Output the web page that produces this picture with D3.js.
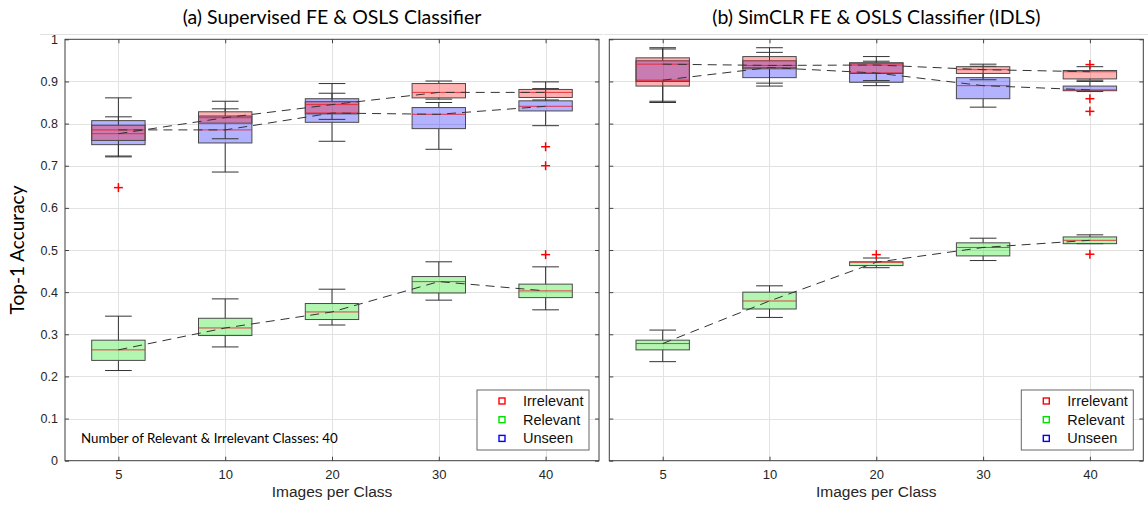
<!DOCTYPE html>
<html>
<head>
<meta charset="utf-8">
<script src="https://cdn.jsdelivr.net/npm/d3@7"></script>
<style>
  html, body { margin: 0; padding: 0; background: #ffffff; }
  svg { display: block; }
</style>
</head>
<body>
<svg id="chart" width="1148" height="512"></svg>
<script>
// Categories on the x axis (images per class)
const categories = ["5", "10", "20", "30", "40"];
const yTicks = [0, 0.1, 0.2, 0.3, 0.4, 0.5, 0.6, 0.7, 0.8, 0.9, 1];
const seriesNames = ["Irrelevant", "Relevant", "Unseen"];
const seriesColors = ["#ff0000", "#00e000", "#0000ff"];

// ---- Panel (a): Supervised FE & OSLS Classifier ----
const aIrrMed = [0.776, 0.814, 0.845, 0.874, 0.874];
const aIrrQ1  = [0.760, 0.801, 0.823, 0.861, 0.862];
const aIrrQ3  = [0.796, 0.828, 0.852, 0.895, 0.881];
const aIrrLo  = [0.723, 0.764, 0.810, 0.858, 0.856];
const aIrrHi  = [0.816, 0.853, 0.872, 0.901, 0.899];
const aIrrOut = [["5", 0.648], ["40", 0.745], ["40", 0.700]];

const aRelMed = [0.263, 0.315, 0.353, 0.425, 0.403];
const aRelQ1  = [0.238, 0.297, 0.335, 0.398, 0.387];
const aRelQ3  = [0.286, 0.338, 0.373, 0.437, 0.419];
const aRelLo  = [0.214, 0.270, 0.322, 0.381, 0.358];
const aRelHi  = [0.343, 0.384, 0.407, 0.472, 0.460];
const aRelOut = [["40", 0.489]];

const aUnsMed = [0.785, 0.785, 0.825, 0.822, 0.841];
const aUnsQ1  = [0.750, 0.754, 0.803, 0.788, 0.830];
const aUnsQ3  = [0.807, 0.818, 0.859, 0.838, 0.854];
const aUnsLo  = [0.721, 0.685, 0.758, 0.739, 0.795];
const aUnsHi  = [0.861, 0.835, 0.895, 0.850, 0.883];
const aUnsOut = [];

// ---- Panel (b): SimCLR FE & OSLS Classifier (IDLS) ----
const bIrrMed = [0.941, 0.938, 0.939, 0.928, 0.923];
const bIrrQ1  = [0.889, 0.930, 0.919, 0.919, 0.906];
const bIrrQ3  = [0.956, 0.959, 0.944, 0.935, 0.926];
const bIrrLo  = [0.853, 0.896, 0.902, 0.904, 0.903];
const bIrrHi  = [0.980, 0.980, 0.959, 0.941, 0.935];
const bIrrOut = [["40", 0.940]];

const bRelMed = [0.278, 0.379, 0.471, 0.506, 0.523];
const bRelQ1  = [0.263, 0.360, 0.463, 0.486, 0.515];
const bRelQ3  = [0.286, 0.400, 0.472, 0.517, 0.531];
const bRelLo  = [0.235, 0.340, 0.458, 0.475, 0.515];
const bRelHi  = [0.310, 0.415, 0.481, 0.528, 0.536];
const bRelOut = [["20", 0.489], ["40", 0.490]];

const bUnsMed = [0.903, 0.933, 0.920, 0.890, 0.880];
const bUnsQ1  = [0.900, 0.909, 0.898, 0.859, 0.878];
const bUnsQ3  = [0.949, 0.949, 0.944, 0.909, 0.889];
const bUnsLo  = [0.850, 0.889, 0.890, 0.839, 0.876];
const bUnsHi  = [0.977, 0.969, 0.948, 0.936, 0.900];
const bUnsOut = [["40", 0.859], ["40", 0.829]];

const annotationText = "Number of Relevant & Irrelevant Classes: 40";

function series(name, color, med, q1, q3, lo, hi, out) {
  return { name, color, med, q1, q3, lo, hi, out };
}

const panels = [
  {
    title: "(a) Supervised FE & OSLS Classifier",
    left: 65, right: 599, yLabels: true, note: annotationText,
    // drawn back to front
    series: [
      series("Unseen", seriesColors[2], aUnsMed, aUnsQ1, aUnsQ3, aUnsLo, aUnsHi, aUnsOut),
      series("Relevant", seriesColors[1], aRelMed, aRelQ1, aRelQ3, aRelLo, aRelHi, aRelOut),
      series("Irrelevant", seriesColors[0], aIrrMed, aIrrQ1, aIrrQ3, aIrrLo, aIrrHi, aIrrOut)
    ]
  },
  {
    title: "(b) SimCLR FE & OSLS Classifier (IDLS)",
    left: 609.3, right: 1143.3, yLabels: false, note: null,
    series: [
      series("Unseen", seriesColors[2], bUnsMed, bUnsQ1, bUnsQ3, bUnsLo, bUnsHi, bUnsOut),
      series("Relevant", seriesColors[1], bRelMed, bRelQ1, bRelQ3, bRelLo, bRelHi, bRelOut),
      series("Irrelevant", seriesColors[0], bIrrMed, bIrrQ1, bIrrQ3, bIrrLo, bIrrHi, bIrrOut)
    ]
  }
];

const svg = d3.select("#chart");
const yTop = 39.3, yBot = 460.7;
const y = d3.scaleLinear().domain([0, 1]).range([yBot, yTop]);

const helv = "'Liberation Sans', Arial, Helvetica, sans-serif";
const calib = "Lato, 'Open Sans', sans-serif";
const fmt = d => String(+d.toFixed(1));

panels.forEach((p, pi) => {
  const x = d3.scalePoint().domain(categories).range([p.left, p.right]).padding(0.5);
  const step = x.step();
  const boxW = step * 0.5;
  const capW = step * 0.25;
  const g = svg.append("g");

  // faint frame line above the axes
  g.append("line")
    .attr("x1", pi === 0 ? 40 : 604).attr("x2", pi === 0 ? 603 : 1148)
    .attr("y1", 34.5).attr("y2", 34.5)
    .attr("stroke", "#e2e2e2").attr("stroke-width", 1);

  // grid
  g.append("g").selectAll("line.gy")
    .data(yTicks.filter(t => t > 0 && t < 1))
    .join("line")
    .attr("x1", p.left).attr("x2", p.right)
    .attr("y1", d => Math.round(y(d)) + 0.5).attr("y2", d => Math.round(y(d)) + 0.5)
    .attr("stroke", "#e2e2e2").attr("stroke-width", 1);
  g.append("g").selectAll("line.gx")
    .data(categories)
    .join("line")
    .attr("x1", d => Math.round(x(d)) + 0.5).attr("x2", d => Math.round(x(d)) + 0.5)
    .attr("y1", yTop).attr("y2", yBot)
    .attr("stroke", "#e2e2e2").attr("stroke-width", 1);

  // axes with inward ticks
  const axL = d3.axisLeft(y).tickValues(yTicks).tickSizeInner(-4).tickSizeOuter(0)
    .tickPadding(7).tickFormat(p.yLabels ? fmt : () => "");
  const axR = d3.axisRight(y).tickValues(yTicks).tickSizeInner(-4).tickSizeOuter(0).tickFormat(() => "");
  const axB = d3.axisBottom(x).tickSizeInner(-4).tickSizeOuter(0).tickPadding(9);
  const axT = d3.axisTop(x).tickSizeInner(-4).tickSizeOuter(0).tickFormat(() => "");

  const styleAxis = sel => {
    sel.select(".domain").remove();
    sel.selectAll(".tick line").attr("stroke", "#444");
    sel.selectAll(".tick text").attr("fill", "#262626").style("font-family", helv);
  };
  g.append("g").attr("transform", `translate(${p.left},0)`).call(axL).call(styleAxis)
    .selectAll(".tick text").style("font-size", "12.5px");
  g.append("g").attr("transform", `translate(${p.right},0)`).call(axR).call(styleAxis);
  g.append("g").attr("transform", `translate(0,${yBot})`).call(axB).call(styleAxis)
    .selectAll(".tick text").style("font-size", "13px");
  g.append("g").attr("transform", `translate(0,${yTop})`).call(axT).call(styleAxis);

  // boxes
  p.series.forEach(s => {
    const sg = g.append("g");
    const rows = categories.map((c, i) => ({
      c, med: s.med[i], q1: s.q1[i], q3: s.q3[i], lo: s.lo[i], hi: s.hi[i]
    }));
    // whiskers
    sg.selectAll("line.wu").data(rows).join("line")
      .attr("x1", d => x(d.c)).attr("x2", d => x(d.c))
      .attr("y1", d => y(d.q3)).attr("y2", d => y(d.hi))
      .attr("stroke", "#333").attr("stroke-width", 1);
    sg.selectAll("line.wl").data(rows).join("line")
      .attr("x1", d => x(d.c)).attr("x2", d => x(d.c))
      .attr("y1", d => y(d.q1)).attr("y2", d => y(d.lo))
      .attr("stroke", "#333").attr("stroke-width", 1);
    // caps
    ["hi", "lo"].forEach(k => {
      sg.selectAll("line.cap" + k).data(rows).join("line")
        .attr("x1", d => x(d.c) - capW / 2).attr("x2", d => x(d.c) + capW / 2)
        .attr("y1", d => y(d[k])).attr("y2", d => y(d[k]))
        .attr("stroke", "#333").attr("stroke-width", 1);
    });
    // box
    sg.selectAll("rect").data(rows).join("rect")
      .attr("x", d => x(d.c) - boxW / 2).attr("width", boxW)
      .attr("y", d => y(d.q3)).attr("height", d => y(d.q1) - y(d.q3))
      .attr("fill", s.color).attr("fill-opacity", 0.3)
      .attr("stroke", "#4a4a4a").attr("stroke-width", 1);
    // median
    sg.selectAll("line.med").data(rows).join("line")
      .attr("x1", d => x(d.c) - boxW / 2).attr("x2", d => x(d.c) + boxW / 2)
      .attr("y1", d => y(d.med)).attr("y2", d => y(d.med))
      .attr("stroke", "#e8202a").attr("stroke-width", 1).attr("stroke-opacity", 0.85);
    // outliers
    const og = sg.selectAll("g.out").data(s.out).join("g")
      .attr("transform", d => `translate(${x(d[0])},${y(d[1])})`);
    og.append("line").attr("x1", -4.5).attr("x2", 4.5).attr("y1", 0).attr("y2", 0)
      .attr("stroke", "#ff0000").attr("stroke-width", 1.5);
    og.append("line").attr("x1", 0).attr("x2", 0).attr("y1", -4.5).attr("y2", 4.5)
      .attr("stroke", "#ff0000").attr("stroke-width", 1.5);
  });

  // dashed median trend lines
  p.series.forEach(s => {
    const line = d3.line().x((d, i) => x(categories[i])).y(d => y(d));
    g.append("path").attr("d", line(s.med))
      .attr("fill", "none").attr("stroke", "#333").attr("stroke-width", 1)
      .attr("stroke-dasharray", "9,6");
  });

  // border
  g.append("rect")
    .attr("x", p.left).attr("y", yTop)
    .attr("width", p.right - p.left).attr("height", yBot - yTop)
    .attr("fill", "none").attr("stroke", "#3c3c3c").attr("stroke-width", 1);

  // legend
  const lgW = 112, lgH = 60;
  const lgX = p.right - 10 - lgW, lgY = 390;
  const lg = g.append("g");
  lg.append("rect").attr("x", lgX).attr("y", lgY).attr("width", lgW).attr("height", lgH)
    .attr("fill", "#fff").attr("stroke", "#666").attr("stroke-width", 1);
  seriesNames.forEach((n, i) => {
    const cy = lgY + 11 + i * 18.7;
    lg.append("rect").attr("x", lgX + 22).attr("y", cy - 3).attr("width", 6).attr("height", 6)
      .attr("fill", "none").attr("stroke", seriesColors[i]).attr("stroke-width", 1.4);
    lg.append("text").attr("x", lgX + 46).attr("y", cy + 5)
      .style("font-family", helv).style("font-size", "14.5px").attr("fill", "#111").text(n);
  });

  // annotation
  if (p.note) {
    g.append("text").attr("x", 81).attr("y", 442.5)
      .style("font-family", calib).style("font-size", "13.3px").attr("fill", "#000").text(p.note);
  }

  // titles
  g.append("text").attr("x", (p.left + p.right) / 2).attr("y", 24)
    .attr("text-anchor", "middle").style("font-family", calib).style("font-size", "19.5px")
    .attr("fill", "#000").text(p.title);
  g.append("text").attr("x", (p.left + p.right) / 2).attr("y", 497)
    .attr("text-anchor", "middle").style("font-family", helv).style("font-size", "15.5px")
    .attr("fill", "#262626").text("Images per Class");
});

// y axis title
svg.append("text")
  .attr("transform", `translate(24,${(yTop + yBot) / 2}) rotate(-90)`)
  .attr("text-anchor", "middle")
  .style("font-family", calib).style("font-size", "19px").attr("fill", "#000")
  .text("Top-1 Accuracy");
</script>
</body>
</html>
